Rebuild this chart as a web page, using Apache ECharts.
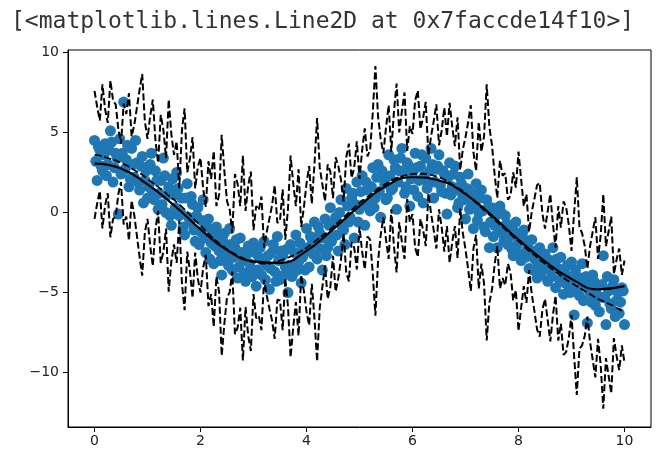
<!DOCTYPE html>
<html>
<head>
<meta charset="utf-8">
<script src="https://cdn.jsdelivr.net/npm/echarts@6/dist/echarts.min.js"></script>
<style>html,body{margin:0;padding:0;background:#fff}#c{width:662px;height:455px}</style>
</head>
<body>
<div id="c"></div>
<script>
const titleText = "[<matplotlib.lines.Line2D at 0x7faccde14f10>]";
const xTicks = [0, 2, 4, 6, 8, 10];
const yTicks = [-10, -5, 0, 5, 10];

const xFine = [0,0.1,0.2,0.3,0.4,0.5,0.6,0.7,0.8,0.9,
1,1.1,1.2,1.3,1.4,1.5,1.6,1.7,1.8,1.9,
2,2.1,2.2,2.3,2.4,2.5,2.6,2.7,2.8,2.9,
3,3.1,3.2,3.3,3.4,3.5,3.6,3.7,3.8,3.9,
4,4.1,4.2,4.3,4.4,4.5,4.6,4.7,4.8,4.9,
5,5.1,5.2,5.3,5.4,5.5,5.6,5.7,5.8,5.9,
6,6.1,6.2,6.3,6.4,6.5,6.6,6.7,6.8,6.9,
7,7.1,7.2,7.3,7.4,7.5,7.6,7.7,7.8,7.9,
8,8.1,8.2,8.3,8.4,8.5,8.6,8.7,8.8,8.9,
9,9.1,9.2,9.3,9.4,9.5,9.6,9.7,9.8,9.9,10];

const xMid = [0.05,0.15,0.25,0.35,0.45,0.55,0.65,0.75,0.85,0.95,
1.05,1.15,1.25,1.35,1.45,1.55,1.65,1.75,1.85,1.95,
2.05,2.15,2.25,2.35,2.45,2.55,2.65,2.75,2.85,2.95,
3.05,3.15,3.25,3.35,3.45,3.55,3.65,3.75,3.85,3.95,
4.05,4.15,4.25,4.35,4.45,4.55,4.65,4.75,4.85,4.95,
5.05,5.15,5.25,5.35,5.45,5.55,5.65,5.75,5.85,5.95,
6.05,6.15,6.25,6.35,6.45,6.55,6.65,6.75,6.85,6.95,
7.05,7.15,7.25,7.35,7.45,7.55,7.65,7.75,7.85,7.95,
8.05,8.15,8.25,8.35,8.45,8.55,8.65,8.75,8.85,8.95,
9.05,9.15,9.25,9.35,9.45,9.55,9.65,9.75,9.85,9.95];

const trueY = [3.6,3.55,3.45,3.35,3.25,3.1,2.95,2.75,2.55,2.35,
2.1,1.85,1.6,1.35,1.05,0.8,0.5,0.2,-0.15,-0.5,
-0.8,-1.15,-1.5,-1.8,-2.05,-2.3,-2.5,-2.7,-2.85,-3.0,
-3.1,-3.15,-3.2,-3.2,-3.1,-3.0,-2.9,-2.75,-2.6,-2.4,
-2.2,-1.95,-1.7,-1.45,-1.2,-0.9,-0.6,-0.3,0.0,0.3,
0.6,0.85,1.1,1.35,1.6,1.8,2.0,2.15,2.25,2.35,
2.4,2.42,2.42,2.38,2.3,2.2,2.05,1.85,1.65,1.45,
1.2,0.9,0.6,0.3,0.0,-0.3,-0.6,-0.9,-1.2,-1.5,
-1.8,-2.1,-2.4,-2.65,-2.95,-3.2,-3.45,-3.7,-3.95,-4.2,
-4.4,-4.6,-4.8,-5.0,-5.2,-5.4,-5.55,-5.7,-5.85,-6.05,
-6.2];

const upperY = [7.6,5.75,6.45,8.25,6.75,4.3,6.15,4.75,6.55,8.65,
4.6,7.05,3.1,5.15,7.05,3.6,1.5,6.5,3.35,1.5,
3.4,0.35,2.1,0.4,4.85,0.7,-1.3,1.8,3.55,1.7,
-1.1,0.15,-2.2,-0.4,1.7,-0.5,-1.7,3.55,0.4,-0.9,
1.8,0.55,5.9,1.75,3.0,0.9,2.9,0.7,4.3,2.8,
2.1,5.25,3.9,9.15,4.6,5.3,3.8,8.05,6.35,3.85,
4.9,7.62,5.92,3.58,5.7,4.2,6.55,6.85,4.15,2.65,
4.7,6.7,2.6,3.8,8.0,4.2,0.9,2.3,0.8,2.5,
3.8,0.4,-1.2,0.85,1.85,-1.0,1.15,-2.2,-0.95,0.3,
-2.4,2.2,-1.3,-3.5,-1.2,-2.9,1.15,-1.2,-3.85,-2.25,
-3.0];

const upperMid = [6.6,8.0,5.6,7.0,5.2,6.8,7.45,5.45,7.65,5.7,
6.0,4.5,6.1,3.4,4.9,4.45,5.15,2.5,4.7,2.85,
1.5,3.2,3.85,1.1,2.6,0.2,2.4,0.4,0.1,2.55,
0.4,1.0,-1.2,0.45,-0.65,1.45,0.2,1.8,2.7,0.3,
2.9,3.0,2.8,0.7,2.55,3.45,2.05,3.45,2.15,4.45,
3.9,3.5,6.2,6.0,3.7,6.7,6.3,5.0,7.5,5.4,
7.0,5.2,6.9,4.75,6.75,5.1,4.75,5.35,5.95,3.95,
5.65,3.75,5.65,4.75,5.35,2.35,3.25,2.45,1.05,1.55,
2.05,1.15,0.05,1.7,-0.05,0.05,-0.75,0.4,0.7,-0.8,
0.0,-0.9,-2.1,-2.1,-0.3,-1.45,-2.1,-0.25,-2.95,-3.9];

const lowerY = [-0.4,1.35,0.45,-1.55,-0.25,1.9,-0.25,0.75,-1.45,-3.95,
-0.4,-3.35,0.1,-2.45,-4.95,-2.0,-0.5,-6.1,-3.65,-2.5,
-5.0,-2.65,-5.1,-4.0,-8.95,-5.3,-3.7,-7.2,-9.25,-7.7,
-5.1,-6.45,-4.2,-6.0,-7.9,-5.5,-4.1,-9.05,-5.6,-3.9,
-6.2,-4.45,-9.3,-4.65,-5.4,-2.7,-4.1,-1.3,-4.3,-2.2,
-0.9,-3.55,-1.7,-6.45,-1.4,-1.7,0.2,-3.75,-1.85,0.85,
-0.1,-2.78,-1.08,1.18,-1.1,0.2,-2.45,-3.15,-0.85,0.25,
-2.3,-4.9,-1.4,-3.2,-8.0,-4.8,-2.1,-4.1,-3.2,-5.5,
-7.4,-4.6,-3.6,-6.15,-7.75,-5.4,-8.05,-5.2,-6.95,-8.7,
-6.4,-11.4,-8.3,-6.5,-9.2,-7.9,-12.25,-10.2,-7.85,-9.85,
-9.4];

const lowerMid = [0.55,-1.0,1.2,-0.4,1.15,-0.75,-1.75,-0.15,-2.75,-1.25,
-2.05,-1.05,-3.15,-1.0,-3.05,-3.15,-4.45,-2.45,-5.35,-4.15,
-3.45,-5.85,-7.15,-4.95,-6.95,-5.0,-7.6,-5.95,-5.9,-8.65,
-6.6,-7.35,-5.2,-6.75,-5.45,-7.35,-5.85,-7.15,-7.7,-4.9,
-7.05,-6.6,-5.95,-3.3,-4.65,-4.95,-2.95,-3.75,-1.85,-3.55,
-2.45,-1.5,-3.8,-3.05,-0.3,-2.9,-2.1,-0.6,-2.9,-0.6,
-2.2,-0.4,-2.1,-0.05,-2.25,-0.9,-0.85,-1.85,-2.85,-1.3,
-3.55,-2.25,-4.75,-4.45,-5.65,-3.25,-4.75,-4.55,-3.75,-4.85,
-5.95,-5.65,-5.1,-7.3,-6.1,-6.7,-6.4,-8.0,-8.9,-7.8,
-9.0,-8.5,-7.7,-8.1,-10.3,-9.5,-9.1,-11.3,-8.95,-8.3];

const fitX = [0,0.5,1,1.5,2,2.5,3,3.5,4,4.5,5,5.5,6,6.5,7,7.5,8,8.5,9,9.5,10];
const fitY = [3.05,2.75,1.75,0.45,-1.05,-2.35,-3.05,-3.15,-2.4,-1.05,0.4,1.65,2.2,2.0,1.15,-0.2,-1.7,-3.05,-4.15,-4.8,-4.6];

const scatterPts = [
[0,4.5],[0.05,2.0],[0.1,3.9],[0.15,2.6],[0.2,4.3],[0.25,3.0],[0.3,5.1],[0.35,1.9],[0.4,3.7],[0.45,-0.1],
[0.5,2.4],[0.55,6.9],[0.6,3.3],[0.65,1.6],[0.7,4.0],[0.75,2.2],[0.8,3.1],[0.85,1.4],[0.9,3.5],[0.95,2.0],
[1,0.9],[1.05,3.0],[1.1,1.2],[1.15,2.6],[1.2,0.2],[1.25,2.0],[1.3,3.4],[1.35,0.0],[1.4,1.6],[1.45,-0.8],
[1.5,1.1],[1.55,2.5],[1.6,-0.2],[1.65,0.9],[1.7,-1.4],[1.75,1.8],[1.8,-0.6],[1.85,0.5],[1.9,-1.8],[1.95,0.3],
[2,-1.2],[2.05,0.8],[2.1,-2.5],[2.15,-0.4],[2.2,-1.9],[2.25,-3.2],[2.3,-0.9],[2.35,-2.4],[2.4,-3.9],[2.45,-1.3],
[2.5,-2.8],[2.55,-1.0],[2.6,-3.6],[2.65,-2.2],[2.7,-4.1],[2.75,-1.6],[2.8,-3.0],[2.85,-4.3],[2.9,-2.1],[2.95,-3.5],
[3,-1.9],[3.05,-4.6],[3.1,-2.8],[3.15,-3.9],[3.2,-1.8],[3.25,-3.3],[3.3,-4.8],[3.35,-2.5],[3.4,-3.7],[3.45,-1.5],
[3.5,-4.2],[3.55,-2.7],[3.6,-3.4],[3.65,-5.0],[3.7,-2.0],[3.75,-3.8],[3.8,-1.4],[3.85,-3.1],[3.9,-4.4],[3.95,-2.2],
[4,-1.0],[4.05,-3.4],[4.1,-2.0],[4.15,-0.6],[4.2,-2.9],[4.25,-1.3],[4.3,-3.6],[4.35,-0.4],[4.4,-2.2],[4.45,0.3],
[4.5,-1.5],[4.55,-0.3],[4.6,-2.4],[4.65,0.8],[4.7,-1.1],[4.75,1.5],[4.8,-0.6],[4.85,0.9],[4.9,-1.6],[4.95,1.9],
[5,0.2],[5.05,2.3],[5.1,-0.8],[5.15,1.4],[5.2,0.1],[5.25,2.8],[5.3,0.9],[5.35,3.0],[5.4,-0.3],[5.45,2.2],
[5.5,0.8],[5.55,3.6],[5.6,1.4],[5.65,3.3],[5.7,0.2],[5.75,2.6],[5.8,4.0],[5.85,1.2],[5.9,3.1],[5.95,0.4],
[6,2.5],[6.05,3.7],[6.1,1.0],[6.15,2.9],[6.2,0.6],[6.25,3.4],[6.3,1.8],[6.35,4.0],[6.4,0.9],[6.45,2.7],
[6.5,3.6],[6.55,1.3],[6.6,2.4],[6.65,-0.1],[6.7,3.1],[6.75,1.6],[6.8,2.9],[6.85,0.3],[6.9,2.2],[6.95,1.0],
[7,-0.4],[7.05,2.4],[7.1,0.7],[7.15,-1.0],[7.2,1.8],[7.25,0.0],[7.3,1.4],[7.35,-0.9],[7.4,0.8],[7.45,-2.2],
[7.5,0.3],[7.55,-0.8],[7.6,-2.2],[7.65,0.4],[7.7,-1.3],[7.75,-0.2],[7.8,-2.0],[7.85,-0.9],[7.9,-2.7],[7.95,-0.6],
[8,-1.6],[8.05,-3.0],[8.1,-1.1],[8.15,-2.4],[8.2,-3.5],[8.25,-1.7],[8.3,-2.9],[8.35,-4.1],[8.4,-2.2],[8.45,-3.4],
[8.5,-2.6],[8.55,-4.3],[8.6,-3.0],[8.65,-2.2],[8.7,-4.7],[8.75,-3.5],[8.8,-2.8],[8.85,-5.1],[8.9,-3.9],[8.95,-4.6],
[9,-3.1],[9.05,-6.4],[9.1,-4.0],[9.15,-5.2],[9.2,-3.2],[9.25,-4.4],[9.3,-6.9],[9.35,-5.0],[9.4,-3.9],[9.45,-5.8],
[9.5,-4.6],[9.55,-5.3],[9.6,-2.7],[9.65,-7.0],[9.7,-4.9],[9.75,-6.0],[9.8,-4.2],[9.85,-5.5],[9.9,-6.3],[9.95,-4.7],
[10,-7.0],
[0.025,3.2],[0.075,4.1],[0.125,2.9],[0.175,3.6],[0.225,2.3],[0.275,3.9],[0.325,4.4],[0.375,2.8],[0.425,3.4],[0.475,4.6],
[0.525,3.7],[0.575,2.7],[0.625,4.2],[0.675,2.1],[0.725,3.0],[0.775,4.5],[0.825,1.9],[0.875,2.9],[0.925,0.6],[0.975,2.6],
[1.025,1.6],[1.075,3.7],[1.125,0.8],[1.175,2.0],[1.225,1.2],[1.275,0.5],[1.325,2.3],[1.375,1.1],[1.425,-0.2],[1.475,2.1],
[1.525,0.3],[1.575,1.5],[1.625,0.0],[1.675,-0.9],[1.725,0.9],[1.775,-0.3],[1.825,1.0],[1.875,-1.1],[1.925,-0.2],[1.975,-2.0],
[2.025,-0.5],[2.075,-1.6],[2.125,-0.9],[2.175,-2.9],[2.225,-1.2],[2.275,-2.1],[2.325,-1.5],[2.375,-3.0],[2.425,-1.8],[2.475,-2.4],
[2.525,-3.3],[2.575,-2.0],[2.625,-2.8],[2.675,-1.7],[2.725,-3.4],[2.775,-2.5],[2.825,-3.8],[2.875,-2.6],[2.925,-3.2],[2.975,-4.0],
[3.025,-2.5],[3.075,-3.6],[3.125,-2.2],[3.175,-3.0],[3.225,-4.2],[3.275,-2.7],[3.325,-3.5],[3.375,-2.0],[3.425,-4.3],[3.475,-3.0],
[3.525,-2.4],[3.575,-3.9],[3.625,-2.3],[3.675,-3.3],[3.725,-4.0],[3.775,-2.5],[3.825,-3.6],[3.875,-1.9],[3.925,-2.8],[3.975,-3.6],
[4.025,-2.4],[4.075,-1.5],[4.125,-2.6],[4.175,-1.9],[4.225,-0.9],[4.275,-2.3],[4.325,-1.6],[4.375,-2.7],[4.425,-0.8],[4.475,-1.8],
[4.525,-0.6],[4.575,-1.4],[4.625,0.0],[4.675,-0.9],[4.725,-2.0],[4.775,0.4],[4.825,-0.3],[4.875,1.2],[4.925,0.5],[4.975,-0.6],
[5.025,1.3],[5.075,0.5],[5.125,1.9],[5.175,0.6],[5.225,1.6],[5.275,0.3],[5.325,2.2],[5.375,1.3],[5.425,2.6],[5.475,1.8],
[5.525,0.9],[5.575,2.3],[5.625,1.5],[5.675,2.8],[5.725,1.9],[5.775,3.4],[5.825,2.6],[5.875,1.6],[5.925,2.9],[5.975,2.1],
[6.025,1.4],[6.075,2.8],[6.125,2.0],[6.175,3.6],[6.225,2.3],[6.275,1.5],[6.325,2.6],[6.375,3.0],[6.425,1.9],[6.475,2.9],
[6.525,1.7],[6.575,2.6],[6.625,1.2],[6.675,2.2],[6.725,1.1],[6.775,2.4],[6.825,1.4],[6.875,0.6],[6.925,1.8],[6.975,0.8],
[7.025,1.5],[7.075,0.2],[7.125,1.2],[7.175,0.4],[7.225,-0.5],[7.275,0.9],[7.325,0.1],[7.375,-1.2],[7.425,0.3],[7.475,-0.6],
[7.525,-1.5],[7.575,-0.2],[7.625,-1.0],[7.675,0.0],[7.725,-1.8],[7.775,-0.7],[7.825,-1.5],[7.875,-2.3],[7.925,-1.2],[7.975,-2.0],
[8.025,-2.6],[8.075,-1.5],[8.125,-2.8],[8.175,-2.0],[8.225,-2.6],[8.275,-3.6],[8.325,-2.4],[8.375,-3.2],[8.425,-3.9],[8.475,-2.8],
[8.525,-3.5],[8.575,-3.0],[8.625,-4.0],[8.675,-3.4],[8.725,-2.9],[8.775,-4.2],[8.825,-3.6],[8.875,-4.4],[8.925,-3.3],[8.975,-5.0],
[9.025,-4.2],[9.075,-3.6],[9.125,-4.8],[9.175,-4.1],[9.225,-5.5],[9.275,-4.0],[9.325,-4.8],[9.375,-5.6],[9.425,-4.3],[9.475,-5.1],
[9.525,-6.2],[9.575,-4.5],[9.625,-5.3],[9.675,-4.0],[9.725,-5.7],[9.775,-4.6],[9.825,-6.5],[9.875,-5.0],[9.925,-5.6],[9.975,-4.9]
];

function pairs(xs, ys) { return xs.map((x, i) => [x, ys[i]]); }
function merged(xa, ya, xb, yb) {
  return pairs(xa, ya).concat(pairs(xb, yb)).sort((p, q) => p[0] - q[0]);
}
const fmt = v => String(v).replace('-', '\u2212');
const tickFont = { fontFamily: 'DejaVu Sans', fontSize: 14, color: '#222' };
const dashStyle = { color: '#000', width: 2, type: [7, 3] };

const chart = echarts.init(document.getElementById('c'), null, { renderer: 'canvas' });
chart.setOption({
  animation: false,
  backgroundColor: '#fff',
  title: {
    text: titleText, left: 6, top: 6,
    textStyle: { fontFamily: 'DejaVu Sans Mono', fontSize: 23, fontWeight: 'normal', color: '#333' }
  },
  grid: { left: 68, right: 11, top: 50, bottom: 28, show: true, borderColor: '#000', borderWidth: 1, backgroundColor: 'transparent' },
  xAxis: {
    type: 'value', min: -0.5, max: 10.5,
    splitLine: { show: false },
    axisLine: { show: true, onZero: false, lineStyle: { color: '#000', width: 1 } },
    axisTick: { show: true, length: 5, customValues: xTicks, lineStyle: { color: '#000' } },
    axisLabel: Object.assign({ margin: 7, customValues: xTicks, formatter: fmt }, tickFont)
  },
  yAxis: {
    type: 'value', min: -13.4, max: 10.15,
    splitLine: { show: false },
    axisLine: { show: true, onZero: false, lineStyle: { color: '#000', width: 1 } },
    axisTick: { show: true, length: 5, customValues: yTicks, lineStyle: { color: '#000' } },
    axisLabel: Object.assign({ margin: 9, customValues: yTicks, formatter: fmt }, tickFont)
  },
  series: [
    { type: 'scatter', data: scatterPts, symbolSize: 11, itemStyle: { color: '#1f77b4', opacity: 1 }, z: 2 },
    { type: 'line', data: merged(xFine, upperY, xMid, upperMid), showSymbol: false, lineStyle: dashStyle, z: 3 },
    { type: 'line', data: merged(xFine, lowerY, xMid, lowerMid), showSymbol: false, lineStyle: dashStyle, z: 3 },
    { type: 'line', data: pairs(fitX, fitY), smooth: true, showSymbol: false, lineStyle: { color: '#000', width: 2.2 }, z: 4 },
    { type: 'line', data: pairs(xFine, trueY), smooth: true, showSymbol: false, lineStyle: { color: '#000', width: 1.8, type: [7, 3] }, z: 4 }
  ]
});
</script>
</body>
</html>
